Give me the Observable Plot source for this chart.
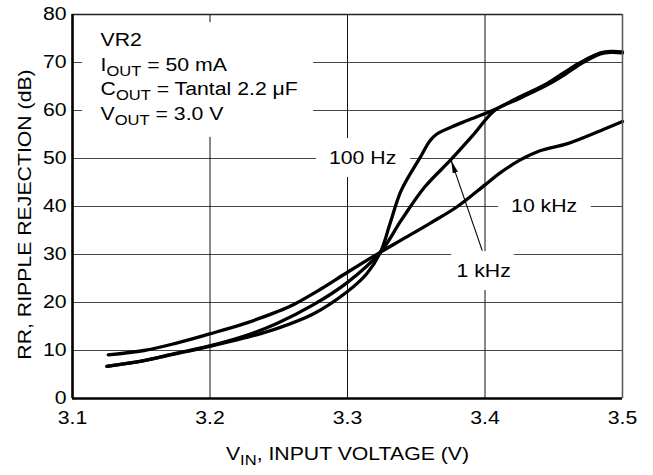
<!DOCTYPE html>
<html>
<head>
<meta charset="utf-8">
<script src="https://cdn.jsdelivr.net/npm/d3@7"></script>
<script src="https://cdn.jsdelivr.net/npm/@observablehq/plot@0.6"></script>
<style>
  html, body { margin: 0; padding: 0; background: #fff; }
</style>
</head>
<body>
<div id="chart"></div>
<script>
// ---- data ----
const xTicks = [3.1, 3.2, 3.3, 3.4, 3.5];
const yTicks = [0, 10, 20, 30, 40, 50, 60, 70, 80];

const x100Hz = [3.125, 3.152, 3.175, 3.199, 3.225, 3.249, 3.275, 3.300, 3.314, 3.324, 3.331, 3.339, 3.353, 3.360, 3.365, 3.376, 3.387, 3.407, 3.425, 3.445, 3.458, 3.470, 3.484, 3.492, 3.500];
const y100Hz = [6.7, 7.9, 9.3, 10.8, 12.6, 14.6, 17.6, 22.3, 26.0, 30.5, 36.5, 43.3, 50.3, 53.7, 55.1, 56.6, 57.9, 60.2, 62.8, 65.6, 68.0, 70.1, 72.0, 72.3, 72.2];

const x1kHz = [3.125, 3.152, 3.175, 3.199, 3.225, 3.249, 3.275, 3.300, 3.324, 3.339, 3.356, 3.375, 3.392, 3.407, 3.425, 3.445, 3.458, 3.470, 3.484, 3.492, 3.500];
const y1kHz = [6.7, 7.9, 9.4, 10.9, 13.0, 15.7, 19.5, 24.2, 30.5, 37.1, 44.0, 49.7, 55.1, 60.0, 62.5, 65.3, 67.5, 69.8, 71.8, 72.1, 72.0];

const x10kHz = [3.126, 3.152, 3.175, 3.199, 3.225, 3.249, 3.261, 3.280, 3.300, 3.324, 3.339, 3.360, 3.380, 3.400, 3.411, 3.425, 3.440, 3.460, 3.484, 3.500];
const y10kHz = [9.1, 10.0, 11.5, 13.4, 15.6, 18.1, 19.6, 22.7, 26.3, 30.5, 33.0, 36.5, 40.0, 44.5, 47.0, 49.6, 51.6, 53.1, 55.8, 57.7];

const seriesNames = ["100 Hz", "1 kHz", "10 kHz"];

// annotations (data coordinates)
const curveLabels = [
  {text: "100 Hz", x: 3.311, y: 50},
  {text: "10 kHz", x: 3.443, y: 40},
  {text: "1 kHz", x: 3.399, y: 26.5}
];
const conditions = ["VR2", "I_{OUT} = 50 mA", "C_{OUT} = Tantal 2.2 \u03BCF", "V_{OUT} = 3.0 V"];
const conditionX = 3.1204;
const conditionTop = 74.6;
const conditionStep = 5.1;
const conditionBox = {x1: 3.1073, x2: 3.2753, y1: 54.4, y2: 78.3};
const arrow = {x1: 3.398, y1: 30.8, x2: 3.3754, y2: 49.6};

const xTitle = "V_{IN}, INPUT VOLTAGE (V)";
const yTitle = "RR, RIPPLE REJECTION (dB)";

// ---- build table ----
const rows = [];
[[x100Hz, y100Hz], [x1kHz, y1kHz], [x10kHz, y10kHz]].forEach(([xs, ys], k) => {
  xs.forEach((x, i) => rows.push({series: seriesNames[k], x, y: ys[i]}));
});

const FONT = '"Liberation Sans", Arial, Helvetica, sans-serif';

const svg = Plot.plot({
  width: 653,
  height: 475,
  marginLeft: 72,
  marginRight: 31,
  marginTop: 14,
  marginBottom: 77,
  x: {domain: [3.1, 3.5]},
  y: {domain: [0, 80]},
  style: {fontFamily: FONT, fontSize: "18px", color: "black", background: "white", overflow: "visible"},
  marks: [
    Plot.ruleY(yTicks.slice(1, -1), {stroke: "#444", strokeWidth: 1.2}),
    Plot.ruleX(xTicks.slice(1, -1), {stroke: "#111", strokeWidth: 1}),
    Plot.rect([conditionBox], {x1: "x1", x2: "x2", y1: "y1", y2: "y2", fill: "white"}),
    Plot.text(conditions, {
      x: () => conditionX,
      y: (d, i) => conditionTop - i * conditionStep,
      text: d => d,
      textAnchor: "start",
      fontSize: 18,
      fill: "black"
    }),
    Plot.text(curveLabels, {
      x: "x", y: "y", text: "text",
      fill: "black", stroke: "white", strokeWidth: 26, strokeLinejoin: "round",
      paintOrder: "stroke", fontSize: 18
    }),
    Plot.line(rows, {
      x: "x", y: "y", z: "series",
      curve: "catmull-rom",
      stroke: "black", strokeWidth: 3.3,
      strokeLinejoin: "round", strokeLinecap: "round"
    }),
    Plot.link([arrow], {x1: "x1", y1: "y1", x2: "x2", y2: "y2", stroke: "black", strokeWidth: 1.1, markerEnd: "arrow"}),
    Plot.ruleX([3.5], {stroke: "#555", strokeWidth: 1.5}),
    Plot.ruleY([80], {stroke: "#222", strokeWidth: 1.5}),
    Plot.ruleX([3.1], {stroke: "black", strokeWidth: 2.6}),
    Plot.ruleY([0], {stroke: "black", strokeWidth: 2.6}),
    Plot.axisX({ticks: xTicks, tickFormat: d => d.toFixed(1), tickSize: 0, tickPadding: 13, label: null, fontSize: 18}),
    Plot.axisY({ticks: yTicks, tickFormat: d => String(d), tickSize: 0, tickPadding: 6, label: null, fontSize: 18}),
    Plot.text([xTitle], {frameAnchor: "bottom", dy: 61, text: d => d, textAnchor: "middle", fontSize: 18, fill: "black"}),
    Plot.text([yTitle], {frameAnchor: "left", dx: -47, dy: 8, rotate: -90, text: d => d, textAnchor: "middle", fontSize: 18, fill: "black"})
  ]
});

document.getElementById("chart").append(svg);

// ---- subscripts: "_{...}" -> lowered, smaller tspan ----
const NS = "http://www.w3.org/2000/svg";
svg.querySelectorAll("text, tspan").forEach(el => {
  if (el.children.length) return;
  const s = el.textContent;
  if (!s.includes("_{")) return;
  el.textContent = "";
  const parts = s.split(/(_\{[^}]*\})/);
  let shifted = false;
  for (const p of parts) {
    if (!p) continue;
    const t = document.createElementNS(NS, "tspan");
    if (p.startsWith("_{")) {
      t.textContent = p.slice(2, -1);
      t.setAttribute("dy", "5");
      t.setAttribute("font-size", "14");
      shifted = true;
    } else {
      t.textContent = p;
      if (shifted) { t.setAttribute("dy", "-5"); shifted = false; }
    }
    el.appendChild(t);
  }
});

// ---- filled narrow arrowhead ----
svg.querySelectorAll("marker").forEach(m => {
  while (m.firstChild) m.removeChild(m.firstChild);
  m.setAttribute("viewBox", "-13 -3 13 6");
  m.setAttribute("markerWidth", "13");
  m.setAttribute("markerHeight", "6");
  m.setAttribute("markerUnits", "userSpaceOnUse");
  m.setAttribute("refX", "0");
  m.setAttribute("refY", "0");
  m.setAttribute("orient", "auto");
  m.setAttribute("fill", "black");
  m.setAttribute("stroke", "none");
  const p = document.createElementNS(NS, "path");
  p.setAttribute("d", "M0,0L-13,-2.7L-13,2.7Z");
  m.appendChild(p);
});

// ---- the reference type is horizontally wider than Arial: stretch glyphs ----
const K = 1.18;
svg.querySelectorAll("text").forEach(el => {
  const L = el.getComputedTextLength();
  if (L > 0) {
    el.setAttribute("textLength", (L * K).toFixed(2));
    el.setAttribute("lengthAdjust", "spacingAndGlyphs");
  }
});
</script>
</body>
</html>
